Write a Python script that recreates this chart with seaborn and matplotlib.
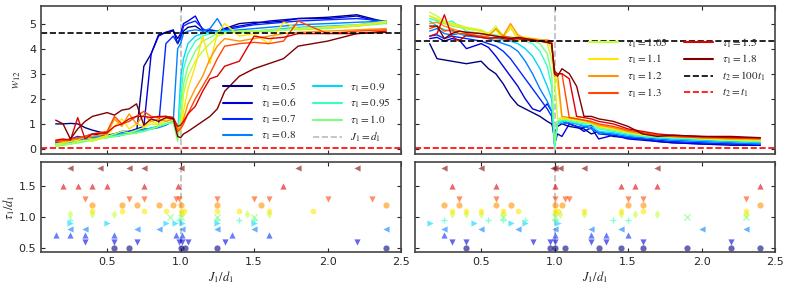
import matplotlib
matplotlib.use("Agg")
import matplotlib.pyplot as plt
from matplotlib.lines import Line2D
import seaborn as sns
import pandas as pd

# x grid shared by every curve
J_grid = [0.15, 0.2, 0.25, 0.3, 0.35, 0.4, 0.5, 0.55, 0.6, 0.65, 0.7, 0.75, 0.8, 0.85, 0.9, 0.95,
          0.98, 1.0, 1.02, 1.05, 1.1, 1.15, 1.2, 1.25, 1.3, 1.4, 1.5, 1.6, 1.7, 1.8, 2.0, 2.2, 2.4]
taus = [0.5, 0.6, 0.7, 0.8, 0.9, 0.95, 1.0, 1.05, 1.1, 1.2, 1.3, 1.5, 1.8]
markers = ["o", "v", "^", "<", ">", "+", "x", "d", "h", "o", "v", "^", "<"]

# left panel, w12 per tau
wl_050 = [1.0, 1.0, 1.02, 1.0, 0.85, 0.75, 0.6, 0.5, 0.55, 0.7, 0.65, 3.3, 3.8, 4.55, 4.65, 4.75,
          4.2, 4.5, 4.7, 4.85, 4.9, 4.7, 4.75, 4.7, 4.8, 5.0, 5.05, 5.05, 5.1, 5.2, 5.25, 5.35, 5.05]
wl_060 = [0.3, 0.35, 0.35, 0.4, 0.5, 0.6, 0.5, 0.6, 0.7, 0.7, 0.8, 0.9, 3.8, 4.5, 4.65, 4.7,
          4.4, 4.6, 5.0, 5.1, 5.3, 4.75, 4.7, 4.65, 4.8, 4.9, 5.0, 5.1, 5.15, 5.2, 5.2, 5.3, 5.0]
wl_070 = [0.25, 0.3, 0.4, 0.5, 0.45, 0.5, 0.55, 0.6, 0.65, 0.7, 0.75, 0.8, 0.8, 0.9, 4.2, 4.5,
          4.2, 4.4, 4.9, 5.0, 5.1, 4.8, 4.6, 4.7, 4.75, 4.85, 4.95, 5.0, 5.05, 5.1, 5.15, 5.2, 5.1]
wl_080 = [0.3, 0.25, 0.3, 0.35, 0.4, 0.45, 0.5, 0.55, 0.6, 0.65, 0.7, 0.75, 0.8, 0.85, 0.95, 1.1,
          4.0, 4.2, 4.6, 4.7, 4.75, 4.7, 4.8, 5.2, 4.7, 4.75, 4.8, 4.85, 4.9, 4.95, 5.0, 5.05, 5.1]
wl_090 = [0.2, 0.2, 0.25, 0.3, 0.35, 0.4, 0.5, 0.55, 0.6, 0.65, 0.7, 0.75, 0.85, 0.9, 1.0, 1.1,
          0.5, 2.8, 3.6, 4.2, 4.5, 4.6, 4.65, 4.7, 4.7, 4.7, 4.7, 4.75, 4.8, 4.85, 4.9, 4.95, 5.1]
wl_095 = [0.15, 0.15, 0.2, 0.25, 0.3, 0.4, 0.45, 0.5, 0.55, 0.6, 0.65, 0.7, 0.8, 0.9, 1.0, 1.1,
          0.5, 2.0, 3.2, 3.8, 4.3, 4.5, 4.6, 4.65, 4.65, 4.65, 4.7, 4.7, 4.75, 4.8, 4.85, 4.9, 5.05]
wl_100 = [0.1, 0.15, 0.2, 0.25, 0.3, 0.35, 0.45, 0.5, 0.55, 0.6, 0.65, 0.7, 0.8, 0.9, 1.0, 1.05,
          0.3, 1.2, 2.6, 3.3, 3.9, 4.3, 4.45, 4.6, 4.65, 4.65, 4.7, 4.7, 4.75, 4.75, 4.8, 4.9, 5.0]
wl_105 = [0.15, 0.2, 0.2, 0.3, 0.35, 0.3, 0.5, 0.6, 0.7, 0.65, 0.75, 0.85, 1.0, 0.95, 1.1, 1.15,
          0.7, 0.8, 2.2, 2.9, 3.5, 3.9, 4.2, 4.5, 4.6, 4.7, 4.7, 4.75, 4.75, 4.8, 4.85, 4.95, 5.05]
wl_110 = [0.2, 0.25, 0.3, 0.35, 0.5, 0.35, 0.55, 0.9, 1.2, 0.8, 1.0, 0.9, 1.1, 1.0, 1.2, 1.2,
          0.7, 0.75, 1.5, 2.4, 3.3, 4.5, 3.4, 4.6, 5.0, 4.5, 4.6, 4.2, 5.05, 4.8, 4.85, 4.9, 5.1]
wl_120 = [0.3, 0.3, 0.35, 0.4, 0.45, 0.5, 0.6, 1.2, 0.9, 1.4, 1.0, 1.35, 1.1, 1.2, 1.1, 1.2,
          0.8, 0.85, 1.2, 1.8, 2.4, 2.9, 3.6, 4.1, 4.4, 4.3, 4.4, 4.5, 4.6, 4.65, 4.7, 4.75, 4.8]
wl_130 = [0.3, 0.35, 0.4, 0.45, 0.5, 0.6, 0.7, 1.3, 1.0, 1.1, 1.3, 1.5, 1.3, 1.25, 1.3, 1.25,
          0.7, 0.8, 1.0, 1.4, 2.0, 2.5, 3.0, 3.6, 4.1, 4.2, 4.25, 4.2, 4.3, 5.1, 4.6, 4.7, 4.75]
wl_150 = [0.35, 0.4, 0.35, 1.25, 0.4, 0.6, 0.65, 0.9, 1.0, 1.2, 1.3, 1.3, 1.25, 1.3, 1.3, 1.25,
          0.9, 0.95, 1.1, 1.4, 1.7, 2.3, 2.8, 2.9, 3.3, 3.5, 4.5, 4.4, 4.45, 4.6, 4.6, 4.6, 4.7]
wl_180 = [1.15, 1.0, 0.4, 0.8, 1.1, 1.3, 1.45, 1.35, 1.55, 1.6, 1.8, 0.95, 1.2, 1.1, 1.25, 1.2,
          0.5, 0.45, 0.6, 0.7, 0.9, 1.1, 1.3, 1.6, 2.3, 2.9, 3.2, 3.4, 3.6, 4.1, 4.3, 4.6, 4.65]

# right panel, w12 per tau
wr_050 = [4.2, 3.6, 3.55, 3.5, 3.45, 3.4, 3.5, 3.2, 3.0, 2.6, 2.1, 1.75, 1.6, 1.45, 1.3, 1.1,
          1.0, 0.6, 0.9, 1.0, 0.9, 0.85, 0.8, 0.6, 0.7, 0.5, 0.45, 0.4, 0.3, 0.25, 0.2, 0.15, 0.15]
wr_060 = [4.4, 4.45, 4.3, 4.4, 4.35, 4.0, 4.2, 4.05, 3.7, 3.3, 2.9, 2.5, 2.0, 1.6, 1.5, 1.8,
          1.5, 0.2, 0.6, 0.5, 1.0, 0.9, 0.7, 0.85, 0.4, 0.55, 0.4, 0.35, 0.3, 0.25, 0.2, 0.2, 0.15]
wr_070 = [4.5, 4.55, 4.4, 4.5, 4.45, 4.4, 4.3, 4.2, 4.1, 3.9, 3.6, 3.2, 2.8, 2.4, 2.0, 1.6,
          1.3, 0.3, 1.0, 1.1, 1.0, 0.9, 0.85, 0.95, 0.6, 0.55, 0.45, 0.4, 0.35, 0.3, 0.25, 0.2, 0.2]
wr_080 = [4.7, 4.8, 4.6, 4.55, 4.6, 4.5, 4.45, 4.4, 4.3, 4.2, 4.1, 3.9, 3.5, 3.0, 2.4, 1.9,
          1.5, 0.2, 1.1, 1.0, 1.05, 1.0, 0.9, 0.8, 0.65, 0.6, 0.5, 0.45, 0.4, 0.35, 0.3, 0.25, 0.2]
wr_090 = [5.1, 4.9, 4.75, 4.7, 4.6, 4.55, 4.5, 4.45, 4.4, 4.35, 4.3, 4.2, 4.0, 3.7, 3.2, 2.5,
          2.0, 0.1, 1.0, 1.1, 1.1, 1.0, 0.95, 0.9, 0.7, 0.65, 0.55, 0.5, 0.45, 0.4, 0.35, 0.3, 0.25]
wr_095 = [5.2, 5.1, 5.0, 5.1, 4.9, 4.7, 4.6, 4.55, 4.5, 4.45, 4.4, 4.4, 4.3, 4.2, 3.9, 3.3,
          2.5, 0.05, 1.0, 1.15, 1.1, 1.05, 1.0, 1.0, 0.8, 0.7, 0.6, 0.5, 0.45, 0.45, 0.4, 0.35, 0.3]
wr_100 = [5.3, 5.15, 5.0, 4.9, 4.85, 4.8, 4.7, 4.6, 4.55, 4.5, 4.45, 4.45, 4.4, 4.35, 4.2, 3.8,
          3.0, 0.2, 1.1, 1.2, 1.15, 1.1, 1.05, 1.0, 0.85, 0.75, 0.65, 0.55, 0.5, 0.45, 0.4, 0.35, 0.3]
wr_105 = [5.45, 5.3, 5.1, 5.0, 4.95, 4.85, 4.75, 4.6, 4.9, 4.5, 4.8, 4.5, 4.45, 4.4, 4.35, 4.2,
          3.6, 2.8, 1.2, 1.25, 1.2, 1.3, 1.1, 1.0, 0.9, 0.8, 0.65, 0.55, 0.5, 0.55, 0.4, 0.35, 0.35]
wr_110 = [5.3, 5.2, 5.05, 4.95, 4.9, 4.8, 4.7, 4.55, 4.75, 4.4, 4.9, 4.3, 4.45, 4.4, 4.35, 4.3,
          4.0, 3.0, 2.6, 1.2, 1.2, 1.15, 1.1, 1.05, 0.9, 0.8, 0.7, 0.6, 0.55, 0.5, 0.45, 0.4, 0.35]
wr_120 = [5.0, 5.05, 4.9, 4.8, 4.7, 4.65, 4.6, 4.5, 4.8, 4.5, 5.0, 4.55, 4.4, 4.4, 4.35, 4.35,
          4.3, 2.9, 3.0, 1.3, 1.25, 1.2, 1.15, 1.05, 0.95, 0.85, 0.7, 0.6, 0.55, 0.5, 0.45, 0.4, 0.4]
wr_130 = [4.8, 4.9, 4.7, 4.75, 4.6, 4.6, 4.5, 4.45, 4.4, 4.5, 4.45, 4.4, 4.35, 4.35, 4.3, 4.3,
          4.25, 3.0, 3.0, 3.0, 1.25, 1.2, 1.15, 1.1, 1.0, 0.9, 0.75, 0.65, 0.55, 0.5, 0.45, 0.45, 0.4]
wr_150 = [4.5, 4.6, 5.35, 4.5, 4.3, 4.55, 4.45, 4.4, 4.45, 4.4, 4.35, 4.4, 4.35, 4.3, 4.3, 4.25,
          4.2, 3.1, 3.0, 3.0, 2.8, 1.3, 1.25, 1.2, 1.1, 1.0, 0.8, 0.7, 0.6, 0.55, 0.5, 0.45, 0.45]
wr_180 = [4.9, 4.9, 4.4, 4.6, 4.7, 4.65, 4.6, 4.55, 4.5, 4.45, 4.4, 4.45, 4.4, 4.35, 4.3, 4.25,
          4.2, 3.0, 2.9, 3.2, 3.0, 2.5, 1.3, 1.3, 1.2, 1.1, 0.9, 0.6, 0.5, 0.55, 0.5, 0.5, 0.45]

# bottom panels: J1/d1 positions marked for each tau
sl_050 = [0.55, 0.65, 1.0, 1.03, 1.25, 2.4]
sl_060 = [0.35, 0.55, 0.7, 0.99, 1.01, 1.05, 1.3, 2.2]
sl_070 = [0.15, 0.25, 0.35, 0.55, 0.97, 1.01, 1.35, 1.6]
sl_080 = [0.25, 0.35, 0.7, 0.85, 1.01, 1.25, 1.5, 2.4]
sl_090 = [0.25, 0.5, 0.9, 0.96, 1.01, 1.25, 1.5]
sl_095 = [0.25, 0.99, 1.25, 1.4, 1.5]
sl_100 = [0.93, 1.0, 1.25, 1.5]
sl_105 = [0.25, 0.4, 0.55, 1.01, 1.45, 1.6]
sl_110 = [0.4, 0.6, 0.75, 0.9, 1.0, 1.02, 1.25, 1.4, 1.6, 1.9]
sl_120 = [0.4, 0.6, 0.7, 0.85, 0.95, 1.0, 1.25, 1.55, 2.4]
sl_130 = [0.35, 0.65, 0.75, 0.97, 0.99, 1.25, 1.5, 1.6, 2.0, 2.3]
sl_150 = [0.2, 0.3, 0.4, 0.5, 0.75, 0.98, 1.7]
sl_180 = [0.25, 0.45, 0.65, 0.75, 1.0, 1.8, 2.2]

sr_050 = [0.4, 0.97, 1.0, 1.07, 1.3, 1.45, 1.6, 1.9, 2.2, 2.4]
sr_060 = [0.3, 0.4, 0.85, 0.97, 1.0, 1.25, 1.35, 1.6, 2.2]
sr_070 = [0.25, 1.0, 1.25, 1.35, 1.5]
sr_080 = [0.25, 0.5, 0.75, 1.0, 1.25, 1.45, 2.0, 2.3]
sr_090 = [0.15, 0.45, 0.7, 0.8, 1.02]
sr_095 = [0.25, 0.55, 0.65, 0.8, 1.0, 1.4, 1.5]
sr_100 = [0.65, 1.0, 1.9, 2.3]
sr_105 = [0.3, 0.4, 0.5, 0.65, 1.0, 1.04, 1.2, 1.45, 1.55, 1.7, 2.3]
sr_110 = [0.3, 0.4, 0.5, 0.65, 0.75, 1.0, 1.02, 1.2, 1.45, 1.6, 2.3]
sr_120 = [0.25, 0.35, 0.6, 0.7, 1.0, 1.05, 1.5, 1.6, 2.4]
sr_130 = [0.35, 0.6, 1.0, 1.07, 1.1, 1.5, 1.6, 2.3]
sr_150 = [0.3, 0.6, 1.0, 1.45, 1.55, 1.7, 2.4]
sr_180 = [0.25, 0.5, 0.99, 1.0, 1.04, 1.2, 1.7]

w_ref_left = 4.62
w_ref_right = 4.3
w_base = 0.03

left_curves = [wl_050, wl_060, wl_070, wl_080, wl_090, wl_095, wl_100,
               wl_105, wl_110, wl_120, wl_130, wl_150, wl_180]
right_curves = [wr_050, wr_060, wr_070, wr_080, wr_090, wr_095, wr_100,
                wr_105, wr_110, wr_120, wr_130, wr_150, wr_180]
left_marks = [sl_050, sl_060, sl_070, sl_080, sl_090, sl_095, sl_100,
              sl_105, sl_110, sl_120, sl_130, sl_150, sl_180]
right_marks = [sr_050, sr_060, sr_070, sr_080, sr_090, sr_095, sr_100,
               sr_105, sr_110, sr_120, sr_130, sr_150, sr_180]


def long_lines(curves):
    rows = []
    for tau, ws in zip(taus, curves):
        for j, w in zip(J_grid, ws):
            rows.append({"J": j, "w": w, "tau": tau})
    return pd.DataFrame(rows)


sns.set_style("ticks")
plt.rcParams["font.family"] = ["DejaVu Sans"]
plt.rcParams["mathtext.fontset"] = "stix"
plt.rcParams["xtick.direction"] = "in"
plt.rcParams["ytick.direction"] = "in"
plt.rcParams["xtick.top"] = True
plt.rcParams["ytick.right"] = True
plt.rcParams["axes.edgecolor"] = "#444444"
plt.rcParams["axes.linewidth"] = 1.2

cmap = plt.get_cmap("jet")
colors = [cmap(i / (len(taus) - 1)) for i in range(len(taus))]
palette = dict(zip(taus, colors))

fig = plt.figure(figsize=(7.89, 2.88), dpi=100)
W, H = 789.0, 288.0
ax_tl = fig.add_axes([41 / W, (288 - 154) / H, 360 / W, 148 / H])
ax_tr = fig.add_axes([415 / W, (288 - 154) / H, 360 / W, 148 / H], sharey=ax_tl)
ax_bl = fig.add_axes([41 / W, (288 - 252) / H, 360 / W, 90 / H], sharex=ax_tl)
ax_br = fig.add_axes([415 / W, (288 - 252) / H, 360 / W, 90 / H], sharey=ax_bl)

for ax, curves, wref in [(ax_tl, left_curves, w_ref_left), (ax_tr, right_curves, w_ref_right)]:
    df = long_lines(curves)
    sns.lineplot(data=df, x="J", y="w", hue="tau", hue_order=taus, palette=palette,
                 estimator=None, linewidth=1.0, legend=False, ax=ax)
    ax.axvline(1.0, color="#bbbbbb", ls="--", lw=1.2, zorder=0)
    ax.axhline(wref, color="black", ls="--", lw=1.2)
    ax.axhline(w_base, color="red", ls="--", lw=1.2)
    ax.set_xlim(0.05, 2.5)
    ax.set_ylim(-0.2, 5.7)
    ax.set_yticks([0, 1, 2, 3, 4, 5])
    ax.set_xlabel("")
    ax.set_ylabel("")
    ax.tick_params(labelbottom=False, labelsize=8, length=3)

ax_tl.set_ylabel(r"$w_{12}$", fontsize=9, labelpad=4)
ax_tr.tick_params(labelleft=False)

for ax, marks in [(ax_bl, left_marks), (ax_br, right_marks)]:
    for tau, xs, m, c in zip(taus, marks, markers, colors):
        ys = [tau] * len(xs)
        if m in ("+", "x"):
            sns.scatterplot(x=xs, y=ys, marker=m, color=c, s=20, linewidth=1.0,
                            alpha=0.6, ax=ax, legend=False)
        else:
            sns.scatterplot(x=xs, y=ys, marker=m, color=c, s=20, linewidth=0,
                            alpha=0.6, ax=ax, legend=False)
    ax.axvline(1.0, color="#bbbbbb", ls="--", lw=1.2, zorder=0)
    ax.set_xlim(0.05, 2.5)
    ax.set_ylim(0.43, 1.9)
    ax.set_xticks([0.5, 1.0, 1.5, 2.0, 2.5])
    ax.set_yticks([0.5, 1.0, 1.5])
    ax.set_xlabel(r"$J_1/d_1$", fontsize=9, labelpad=2)
    ax.tick_params(labelsize=8, length=3)

ax_bl.set_ylabel(r"$\tau_1/d_1$", fontsize=9, labelpad=1)
ax_br.set_ylabel("")
ax_br.tick_params(labelleft=False)

# legends
h_left = [Line2D([], [], color=palette[t], lw=1.5, label=rf"$\tau_1={t}$") for t in taus[:7]]
h_left.append(Line2D([], [], color="#bbbbbb", ls="--", lw=1.2, label=r"$J_1=d_1$"))
ax_tl.legend(handles=h_left, ncol=2, loc="lower right", frameon=False, fontsize=8,
             handlelength=2.6, columnspacing=1.5, labelspacing=0.3,
             bbox_to_anchor=(1.0, 0.0))

h_right = [Line2D([], [], color=palette[t], lw=1.5, label=rf"$\tau_1={t}$") for t in taus[7:]]
h_right.append(Line2D([], [], color="black", ls="--", lw=1.2, label=r"$t_2=100t_1$"))
h_right.append(Line2D([], [], color="red", ls="--", lw=1.2, label=r"$t_2=t_1$"))
ax_tr.legend(handles=h_right, ncol=2, loc="center right", frameon=False, fontsize=8,
             handlelength=2.6, columnspacing=1.5, labelspacing=0.3,
             bbox_to_anchor=(1.0, 0.58))

fig.savefig("out.png", dpi=100)
